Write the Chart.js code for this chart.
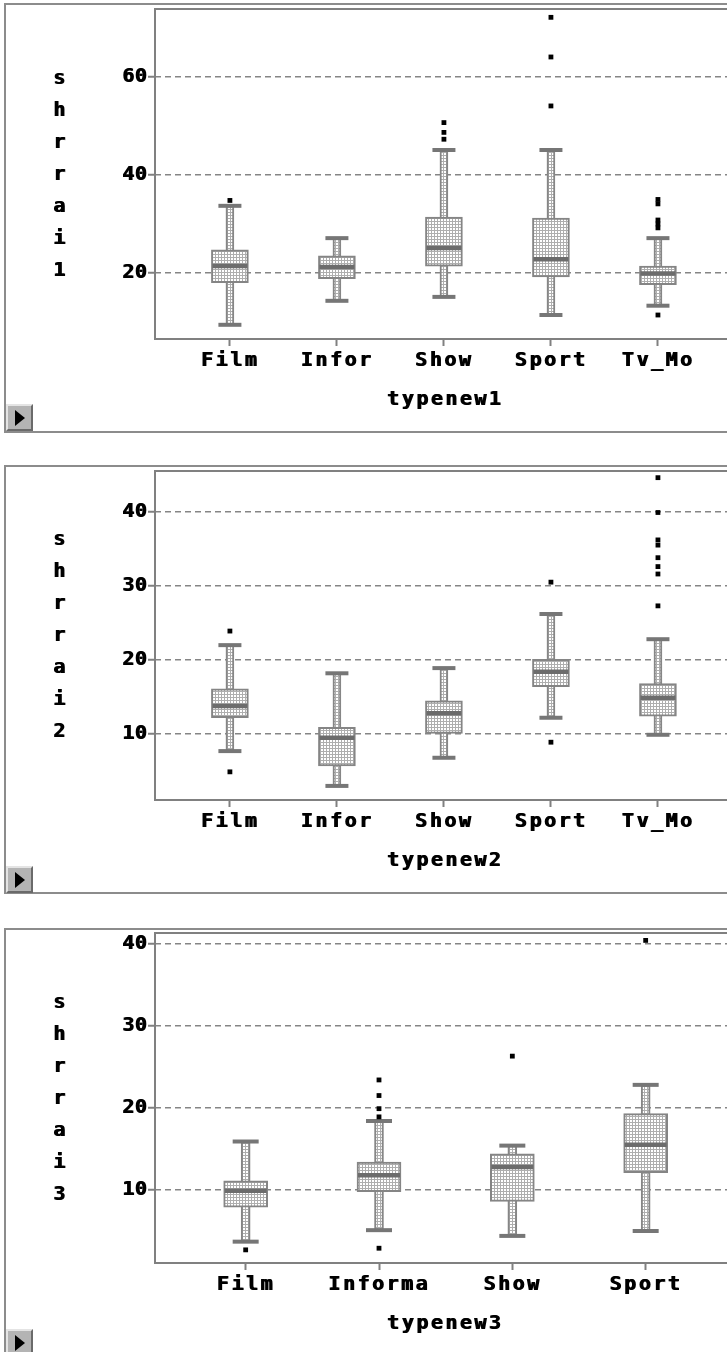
<!DOCTYPE html>
<html>
<head>
<meta charset="utf-8">
<script src="https://cdn.jsdelivr.net/npm/chart.js@4.4.1/dist/chart.umd.min.js"></script>
<style>
  html, body { margin: 0; padding: 0; background: #fff; }
  body { width: 727px; height: 1352px; overflow: hidden; position: relative; }
  .frame { position: absolute; left: 4px; width: 800px; border: 2px solid #8c8c8c; box-sizing: border-box; background: #fff; }
  .plot { position: absolute; left: 0; }
  .btn { position: absolute; left: 6px; width: 27px; height: 27px; box-sizing: border-box;
         background: #b4b4b4; border-top: 2px solid #e4e4e4; border-left: 2px solid #e4e4e4;
         border-right: 2px solid #6a6a6a; border-bottom: 2px solid #6a6a6a; }
  .btn::after { content: ''; position: absolute; left: 7px; top: 4px;
                border-left: 10px solid #000; border-top: 8px solid transparent; border-bottom: 8px solid transparent; }
</style>
</head>
<body>
<div class="frame" style="top:3px;height:430px"></div>
<div class="frame" style="top:465px;height:429px"></div>
<div class="frame" style="top:928px;height:500px"></div>
<canvas id="c1" class="plot" style="top:0px" width="740" height="440"></canvas>
<canvas id="c2" class="plot" style="top:440px" width="740" height="440"></canvas>
<canvas id="c3" class="plot" style="top:880px" width="740" height="472"></canvas>
<div class="btn" style="top:404px"></div>
<div class="btn" style="top:866px"></div>
<div class="btn" style="top:1329px"></div>

<script>
// ---- shrrai1 by typenew1 ----
const categories1   = ['Film', 'Infor', 'Show', 'Sport', 'Tv_Mo'];
const whiskerLow1   = [9.4, 14.3, 15.1, 11.4, 13.3];
const quartile1_1   = [18.0, 18.8, 21.4, 19.2, 17.6];
const median1       = [21.4, 21.2, 25.1, 22.8, 19.9];
const quartile3_1   = [24.7, 23.5, 31.4, 31.2, 21.4];
const whiskerHigh1  = [33.7, 27.1, 45.1, 45.1, 27.1];
const outliers1     = [[34.8], [], [50.7, 48.7, 47.3], [72.2, 64.1, 54.1], [35.0, 34.1, 30.8, 30.0, 29.2, 11.4]];
const yTicks1       = [20, 40, 60];

// ---- shrrai2 by typenew2 ----
const categories2   = ['Film', 'Infor', 'Show', 'Sport', 'Tv_Mo'];
const whiskerLow2   = [7.7, 3.0, 6.8, 12.2, 9.9];
const quartile1_2   = [12.2, 5.7, 10.1, 16.4, 12.4];
const median2       = [13.8, 9.5, 12.8, 18.4, 14.9];
const quartile3_2   = [16.1, 10.9, 14.5, 20.1, 16.8];
const whiskerHigh2  = [22.0, 18.2, 18.9, 26.2, 22.8];
const outliers2     = [[23.9, 4.9], [], [], [30.5, 8.9], [44.6, 39.9, 36.2, 35.5, 33.8, 32.6, 31.6, 27.3]];
const yTicks2       = [10, 20, 30, 40];

// ---- shrrai3 by typenew3 ----
const categories3   = ['Film', 'Informa', 'Show', 'Sport'];
const whiskerLow3   = [3.7, 5.1, 4.4, 5.0];
const quartile1_3   = [7.9, 9.8, 8.6, 12.1];
const median3       = [9.9, 11.8, 12.8, 15.5];
const quartile3_3   = [11.1, 13.4, 14.4, 19.3];
const whiskerHigh3  = [15.9, 18.4, 15.4, 22.8];
const outliers3     = [[2.7], [23.4, 21.5, 19.9, 18.9, 2.9], [26.3], [40.4]];
const yTicks3       = [10, 20, 30, 40];

const FONT = { family: '"DejaVu Sans Mono", "Liberation Mono", monospace', size: 20, weight: 'bold', lineHeight: 1.2 };
const GRAY = '#808080';

// dotted fill used for boxes and whisker stems
function dotPattern() {
  const t = document.createElement('canvas');
  t.width = 3; t.height = 3;
  const c = t.getContext('2d');
  c.fillStyle = '#ffffff'; c.fillRect(0, 0, 3, 3);
  c.fillStyle = '#aeaeae';
  c.fillRect(0, 2, 3, 1);
  c.fillRect(2, 0, 1, 3);
  return c.createPattern(t, 'repeat');
}

// heavy, widely spaced axis text (1px double strike)
function heavyText(ctx, spacing) {
  ctx.letterSpacing = spacing;
  ctx.shadowColor = '#000';
  ctx.shadowBlur = 0;
  ctx.shadowOffsetX = 1;
  ctx.shadowOffsetY = 0;
}

function spaceText(scale, spacing) {
  if (scale.$spaced) return;
  scale.$spaced = true;
  for (const name of ['drawLabels', 'drawTitle']) {
    const fn = scale[name];
    scale[name] = function (...args) {
      const ctx = this.ctx;
      ctx.save();
      heavyText(ctx, spacing);
      fn.apply(this, args);
      ctx.restore();
    };
  }
}

// plot frame and the stacked variable name on the left
const panelDecor = {
  id: 'panelDecor',
  beforeDatasetsDraw(chart) {
    const { ctx, chartArea: a } = chart;
    ctx.save();
    ctx.setLineDash([]);
    ctx.strokeStyle = GRAY;
    ctx.lineWidth = 2;
    ctx.strokeRect(a.left, a.top, a.right - a.left, a.bottom - a.top);
    ctx.restore();
  },
  afterDraw(chart, args, opts) {
    const { ctx } = chart;
    ctx.save();
    heavyText(ctx, '0px');
    ctx.fillStyle = '#000';
    ctx.font = `bold ${FONT.size}px ${FONT.family}`;
    ctx.textAlign = 'center';
    ctx.textBaseline = 'alphabetic';
    opts.name.split('').forEach((ch, i) => ctx.fillText(ch, 59, opts.baseline + i * 32));
    ctx.restore();
  }
};

function drawPanel(p) {
  const fill = dotPattern();
  const idx = p.categories.map((_, i) => i);
  const canvasH = p.canvas.height;
  const xAxisH = 73;
  const padTop = p.chartTop - p.canvasTop;
  const padBottom = canvasH - (p.chartBottom - p.canvasTop) - xAxisH;

  const datasets = [
    { type: 'scatter', label: 'outliers', order: 1,
      data: p.outliers.flatMap((vals, i) => vals.map(v => ({ x: i, y: v }))),
      pointStyle: 'rect', pointRadius: 3.4, pointBackgroundColor: '#000', pointBorderWidth: 0, pointBorderColor: '#000' },
    { type: 'scatter', label: 'median', order: 2,
      data: idx.map(i => ({ x: i, y: p.median[i] })),
      pointStyle: 'line', pointRadius: p.boxWidth / 2 - 1, pointBorderColor: '#6c6c6c', pointBorderWidth: 4.5 },
    { type: 'scatter', label: 'caps', order: 3,
      data: idx.flatMap(i => [{ x: i, y: p.low[i] }, { x: i, y: p.high[i] }]),
      pointStyle: 'line', pointRadius: p.capWidth / 2, pointBorderColor: '#767676', pointBorderWidth: 4 },
    { type: 'bar', label: 'box', order: 4, grouped: false,
      data: idx.map(i => ({ x: i, y: [p.q1[i], p.q3[i]] })),
      barThickness: p.boxWidth, backgroundColor: fill, borderColor: '#858585', borderWidth: 2, borderSkipped: false },
    { type: 'bar', label: 'whisker', order: 5, grouped: false,
      data: idx.map(i => ({ x: i, y: [p.low[i], p.high[i]] })),
      barThickness: p.whiskerWidth, backgroundColor: fill, borderColor: '#868686', borderWidth: 2, borderSkipped: false }
  ];

  new Chart(p.canvas, {
    type: 'bar',
    data: { datasets },
    plugins: [panelDecor],
    options: {
      responsive: false,
      animation: false,
      devicePixelRatio: 1,
      events: [],
      layout: { autoPadding: false, padding: { top: padTop, bottom: padBottom, left: 0, right: 5 } },
      plugins: {
        legend: { display: false },
        tooltip: { enabled: false },
        panelDecor: { name: p.yName, baseline: p.nameBaseline - p.canvasTop }
      },
      scales: {
        x: {
          type: 'linear', min: p.xMin, max: p.xMax, offset: false,
          afterBuildTicks: s => { s.ticks = idx.map(i => ({ value: i })); },
          ticks: { callback: v => p.categories[v], autoSkip: false, maxRotation: 0, minRotation: 0,
                   padding: 3, color: '#000', font: FONT },
          grid: { offset: false, drawOnChartArea: false, drawTicks: true, tickLength: 7, tickColor: GRAY, tickWidth: 2 },
          border: { display: false },
          title: { display: true, text: p.xName, color: '#000', font: FONT, padding: 0 },
          afterFit: s => { s.height = xAxisH; s.paddingLeft = 0; s.paddingRight = 0; spaceText(s, '2.5px'); }
        },
        y: {
          type: 'linear', min: p.yMin, max: p.yMax,
          afterBuildTicks: s => { s.ticks = p.yTicks.map(v => ({ value: v })); },
          ticks: { padding: 1, color: '#000', font: FONT },
          grid: { color: '#858585', lineWidth: 1.5, drawTicks: true, tickLength: 7, tickColor: GRAY,
                  tickWidth: 2, tickBorderDash: [] },
          border: { display: false, dash: [6, 4] },
          afterFit: s => { s.width = 155; s.paddingTop = 0; s.paddingBottom = 0; spaceText(s, '0.5px'); }
        }
      }
    }
  });
}

drawPanel({
  canvas: document.getElementById('c1'), canvasTop: 0, chartTop: 9, chartBottom: 339,
  categories: categories1, low: whiskerLow1, q1: quartile1_1, median: median1, q3: quartile3_1,
  high: whiskerHigh1, outliers: outliers1, yTicks: yTicks1,
  yMin: 6.5, yMax: 73.9, xMin: -0.70, xMax: 4.72,
  boxWidth: 37, whiskerWidth: 8, capWidth: 23,
  xName: 'typenew1', yName: 'shrrai1', nameBaseline: 84
});

drawPanel({
  canvas: document.getElementById('c2'), canvasTop: 440, chartTop: 471, chartBottom: 800,
  categories: categories2, low: whiskerLow2, q1: quartile1_2, median: median2, q3: quartile3_2,
  high: whiskerHigh2, outliers: outliers2, yTicks: yTicks2,
  yMin: 1.1, yMax: 45.5, xMin: -0.70, xMax: 4.72,
  boxWidth: 37, whiskerWidth: 8, capWidth: 23,
  xName: 'typenew2', yName: 'shrrai2', nameBaseline: 545
});

drawPanel({
  canvas: document.getElementById('c3'), canvasTop: 880, chartTop: 933, chartBottom: 1263,
  categories: categories3, low: whiskerLow3, q1: quartile1_3, median: median3, q3: quartile3_3,
  high: whiskerHigh3, outliers: outliers3, yTicks: yTicks3,
  yMin: 1.1, yMax: 41.3, xMin: -0.68, xMax: 3.67,
  boxWidth: 44, whiskerWidth: 9, capWidth: 26,
  xName: 'typenew3', yName: 'shrrai3', nameBaseline: 1008
});
</script>
</body>
</html>
